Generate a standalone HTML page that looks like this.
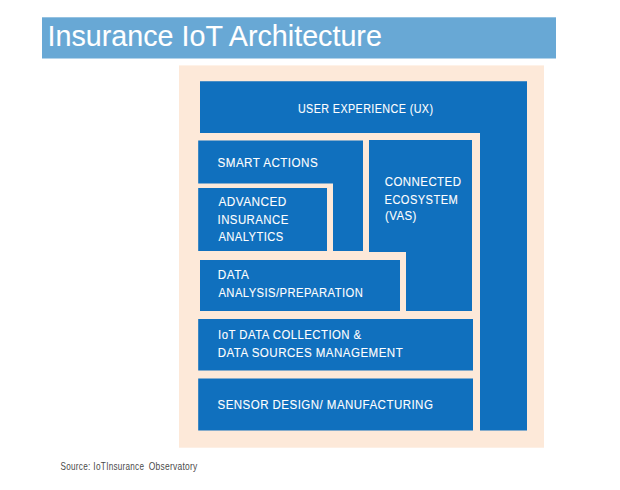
<!DOCTYPE html>
<html><head><meta charset="utf-8"><title>Insurance IoT Architecture</title><style>
html,body{margin:0;padding:0;background:#fff;width:620px;height:490px;overflow:hidden;position:relative}
.r{position:absolute}
.t{position:absolute;white-space:pre;font-family:"Liberation Sans",sans-serif;line-height:0;height:0;transform-origin:0 0}
</style></head><body>
<svg width="620" height="490" viewBox="0 0 620 490" style="position:absolute;left:0;top:0">
<rect x="42" y="17.3" width="514" height="41.2" fill="#68A8D5"/>
<rect x="179" y="65.4" width="365" height="382.3" fill="#FDE9D9"/>
<path d="M200 81.3H527V430.5H480V133H200Z" fill="#1070BE"/>
<rect x="198.2" y="140.5" width="164.8" height="110.5" fill="#1070BE"/>
<rect x="369" y="140" width="103" height="171" fill="#1070BE"/>
<rect x="198" y="183.5" width="135" height="67.5" fill="#FDE9D9"/>
<rect x="198.2" y="188" width="128.8" height="63" fill="#1070BE"/>
<rect x="198" y="252" width="208" height="59" fill="#FDE9D9"/>
<rect x="200" y="260" width="200" height="51" fill="#1070BE"/>
<rect x="198.2" y="319" width="274.8" height="51.5" fill="#1070BE"/>
<rect x="198.2" y="378.5" width="274.8" height="52" fill="#1070BE"/>
</svg>
<div class="t" style="left:47px;top:36px;font-size:29.500px;color:#FFFFFF;transform:translate(0.59px,0.28px) scaleX(0.9723);-webkit-text-stroke:0.1px #fff">Insurance IoT Architecture</div>
<div class="t" style="left:297px;top:108px;font-size:12.800px;color:#FFFFFF;transform:translate(0.88px,0.56px) scaleX(0.8396);letter-spacing:0.5px;-webkit-text-stroke:0.1px #fff">USER EXPERIENCE (UX)</div>
<div class="t" style="left:217px;top:162px;font-size:12.800px;color:#FFFFFF;transform:translate(0.52px,0.68px) scaleX(0.9100);letter-spacing:0.5px;-webkit-text-stroke:0.1px #fff">SMART ACTIONS</div>
<div class="t" style="left:218px;top:202px;font-size:12.800px;color:#FFFFFF;transform:translate(0.45px,0.22px) scaleX(0.9221);letter-spacing:0.5px;-webkit-text-stroke:0.1px #fff">ADVANCED</div>
<div class="t" style="left:217px;top:219px;font-size:12.800px;color:#FFFFFF;transform:translate(0.55px,0.64px) scaleX(0.8914);letter-spacing:0.5px;-webkit-text-stroke:0.1px #fff">INSURANCE</div>
<div class="t" style="left:218px;top:237px;font-size:12.800px;color:#FFFFFF;transform:translate(0.39px,0.10px) scaleX(0.8745);letter-spacing:0.5px;-webkit-text-stroke:0.1px #fff">ANALYTICS</div>
<div class="t" style="left:384px;top:182px;font-size:12.800px;color:#FFFFFF;transform:translate(0.67px,0.14px) scaleX(0.8973);letter-spacing:0.5px;-webkit-text-stroke:0.1px #fff">CONNECTED</div>
<div class="t" style="left:384px;top:200px;font-size:12.800px;color:#FFFFFF;transform:translate(0.55px,0.22px) scaleX(0.8675);letter-spacing:0.5px;-webkit-text-stroke:0.1px #fff">ECOSYSTEM</div>
<div class="t" style="left:384px;top:215px;font-size:12.800px;color:#FFFFFF;transform:translate(0.89px,0.76px) scaleX(0.8950);letter-spacing:0.5px;-webkit-text-stroke:0.1px #fff">(VAS)</div>
<div class="t" style="left:217px;top:275px;font-size:12.800px;color:#FFFFFF;transform:translate(0.71px,0.10px) scaleX(0.9220);letter-spacing:0.5px;-webkit-text-stroke:0.1px #fff">DATA</div>
<div class="t" style="left:218px;top:292px;font-size:12.800px;color:#FFFFFF;transform:translate(0.40px,0.56px) scaleX(0.8779);letter-spacing:0.5px;-webkit-text-stroke:0.1px #fff">ANALYSIS/PREPARATION</div>
<div class="t" style="left:218px;top:335px;font-size:12.800px;color:#FFFFFF;transform:translate(0.11px,0.18px) scaleX(0.8899);letter-spacing:0.5px;-webkit-text-stroke:0.1px #fff">IoT DATA COLLECTION &amp;</div>
<div class="t" style="left:217px;top:352px;font-size:12.800px;color:#FFFFFF;transform:translate(0.74px,0.64px) scaleX(0.9039);letter-spacing:0.5px;-webkit-text-stroke:0.1px #fff">DATA SOURCES MANAGEMENT</div>
<div class="t" style="left:217px;top:404px;font-size:12.800px;color:#FFFFFF;transform:translate(0.48px,0.56px) scaleX(0.9016);letter-spacing:0.5px;-webkit-text-stroke:0.1px #fff">SENSOR DESIGN/ MANUFACTURING</div>
<div class="t" style="left:60px;top:467px;font-size:10.200px;color:#4A4A4A;transform:translate(0.60px,0.41px) scaleX(0.8021);letter-spacing:0.3px">Source:</div>
<div class="t" style="left:93px;top:467px;font-size:10.200px;color:#4A4A4A;transform:translate(0.36px,0.41px) scaleX(0.8133);letter-spacing:0.3px">IoT</div>
<div class="t" style="left:106px;top:467px;font-size:10.200px;color:#4A4A4A;transform:translate(0.31px,0.41px) scaleX(0.7973);letter-spacing:0.3px">Insurance</div>
<div class="t" style="left:148px;top:467px;font-size:10.200px;color:#4A4A4A;transform:translate(0.77px,0.41px) scaleX(0.8286);letter-spacing:0.3px">Observatory</div>
</body></html>
